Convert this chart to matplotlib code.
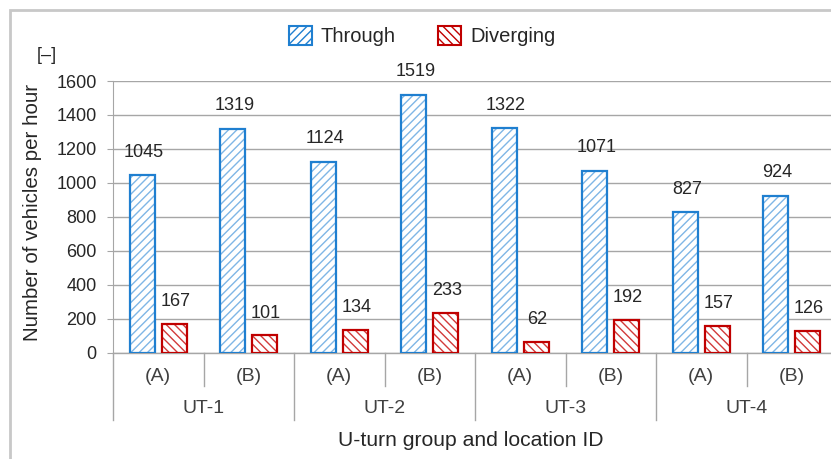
import numpy as np
import matplotlib as mpl
import matplotlib.pyplot as plt
from matplotlib.patches import Patch, Rectangle
import matplotlib.transforms as mtransforms

plt.rcParams['font.family'] = ['Liberation Sans', 'DejaVu Sans']
plt.rcParams['hatch.linewidth'] = 1.0

groups = ['UT-1', 'UT-2', 'UT-3', 'UT-4']
locations = ['(A)', '(B)', '(A)', '(B)', '(A)', '(B)', '(A)', '(B)']
through = [1045, 1319, 1124, 1519, 1322, 1071, 827, 924]
diverging = [167, 101, 134, 233, 62, 192, 157, 126]

blue_edge = '#1f7fd0'
blue_hatch = '#7fb6e6'
red_edge = '#c00000'
red_hatch = '#d23a3a'
grid_col = '#a6a6a6'
txt_col = '#404040'

fig = plt.figure(figsize=(8.31, 4.59), dpi=100)
ax = fig.add_axes([113 / 831, (459 - 352.5) / 459, (837 - 113) / 831, (352.5 - 81) / 459])

x = np.arange(len(locations))
w = 0.28
off = 0.176

# filled hatch then outline on top
ax.bar(x - off, through, w, color='white', edgecolor=blue_hatch, hatch='////', lw=0, zorder=3)
ax.bar(x - off, through, w, fill=False, edgecolor=blue_edge, lw=1.6, zorder=4)
ax.bar(x + off, diverging, w, color='white', edgecolor=red_hatch, hatch='\\\\\\\\', lw=0, zorder=3)
ax.bar(x + off, diverging, w, fill=False, edgecolor=red_edge, lw=1.6, zorder=4)

for i in range(len(x)):
    ax.annotate(str(through[i]), (x[i] - off, through[i]), xytext=(1, 16.5), textcoords='offset points',
                ha='center', va='center', fontsize=13, color='#262626')
    ax.annotate(str(diverging[i]), (x[i] + off, diverging[i]), xytext=(1, 16), textcoords='offset points',
                ha='center', va='center', fontsize=13, color='#262626')

ax.set_xlim(-0.5, 7.5)
ax.set_ylim(0, 1600)
ax.set_yticks(range(0, 1601, 200))
ax.yaxis.grid(True, color=grid_col, lw=1)
ax.set_axisbelow(True)
for s in ['top', 'right', 'bottom']:
    ax.spines[s].set_visible(False)
ax.spines['left'].set_color(grid_col)
ax.tick_params(axis='y', length=4.3, color=grid_col, labelsize=13, labelcolor='#262626', pad=7.5)
ax.set_xticks([])

# two-level category axis
trans = mtransforms.blended_transform_factory(ax.transData, ax.transAxes)
ax.plot([-0.5, 7.5], [0, 0], color=grid_col, lw=1, transform=trans, clip_on=False)
for i, lab in enumerate(locations):
    ax.text(i, -0.089, lab, transform=trans, ha='center', va='center', fontsize=14, color=txt_col)
for b in [0.5, 2.5, 4.5, 6.5]:
    ax.plot([b, b], [0, -0.125], color=grid_col, lw=1, transform=trans, clip_on=False)
for b in [-0.5, 1.5, 3.5, 5.5, 7.5]:
    ax.plot([b, b], [0, -0.25], color=grid_col, lw=1, transform=trans, clip_on=False)
for j, g in enumerate(groups):
    ax.text(2 * j + 0.5, -0.207, g, transform=trans, ha='center', va='center', fontsize=14, color=txt_col)

fig.text(471 / 831, 1 - 440 / 459, 'U-turn group and location ID', ha='center', va='center',
         fontsize=15.2, color='#262626')
fig.text(33 / 831, 1 - 212 / 459, 'Number of vehicles per hour', rotation=90, ha='center', va='center',
         fontsize=14.8, color='#262626')
fig.text(47 / 831, 1 - 56 / 459, '[–]', ha='center', va='center', fontsize=13, color='#262626')

handles = [
    Patch(facecolor='white', edgecolor=blue_edge, hatch='////', lw=1.5, label='Through'),
    Patch(facecolor='white', edgecolor=red_edge, hatch='\\\\\\\\', lw=1.5, label='Diverging'),
]
fig.legend(handles=handles, loc='center', bbox_to_anchor=(422 / 831, 1 - 36 / 459), ncol=2,
           frameon=False, fontsize=14.5, handlelength=1.15, handleheight=1.05, columnspacing=2.1,
           handletextpad=0.45, labelcolor='#262626')

# outer chart border
fig.patches.append(Rectangle((10 / 831, -0.1), 1.1, 1 - 10 / 459 + 0.1, transform=fig.transFigure,
                             fill=False, edgecolor='#c8c8c8', lw=2))

fig.savefig('out.png', dpi=100)
